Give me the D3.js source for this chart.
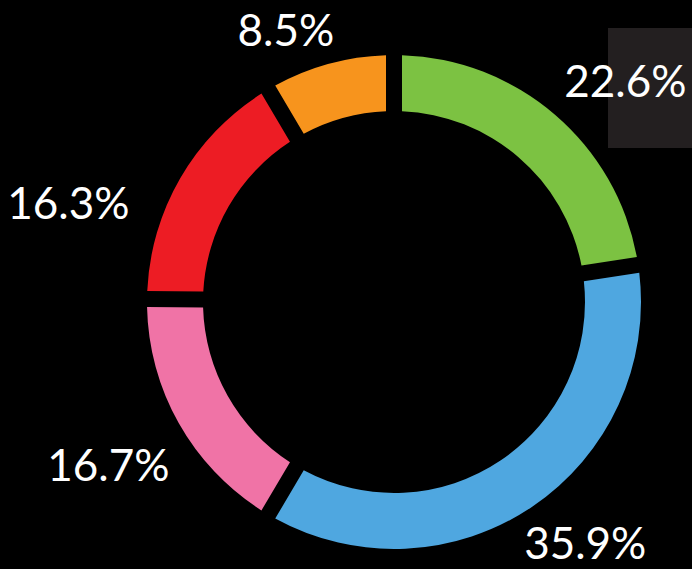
<!DOCTYPE html>
<html>
<head>
<meta charset="utf-8">
<script src="https://cdn.jsdelivr.net/npm/d3@7"></script>
<style>
  html, body { margin: 0; padding: 0; background: #000; }
  svg { display: block; }
</style>
</head>
<body>
<svg id="chart"></svg>
<script>
const categories = ["Green", "Blue", "Pink", "Red", "Orange"];
const shares = [22.6, 35.9, 16.7, 16.3, 8.5];
const labels = ["22.6%", "35.9%", "16.7%", "16.3%", "8.5%"];
const colors = ["#7cc242", "#4fa7e0", "#f073a6", "#ed1c24", "#f7941d"];

const width = 692, height = 569;
const cx = 394, cy = 302,
    outerR = 247, innerR = 191;

const svg = d3.select("#chart")
    .attr("width", width)
    .attr("height", height);

svg.append("rect")
    .attr("width", width)
    .attr("height", height)
    .attr("fill", "#000");

// dark box behind the top right label
svg.append("rect")
    .attr("x", 608)
    .attr("y", 28)
    .attr("width", 84)
    .attr("height", 120)
    .attr("fill", "#231f20");

const g = svg.append("g")
    .attr("transform", `translate(${cx},${cy})`);

const pie = d3.pie().sort(null).value(d => d);
const arcs = pie(shares);

const arc = d3.arc()
    .innerRadius(innerR)
    .outerRadius(outerR)
    .padRadius(220)
    .padAngle(16 / 220);

g.selectAll(".slice")
    .data(arcs)
    .enter()
    .append("path")
    .attr("class", "slice")
    .attr("d", arc)
    .attr("fill", (d, i) => colors[i]);

// labels sit outside the ring, hand nudged like the original
const labelArc = d3.arc().innerRadius(315).outerRadius(315);
const nudge = [[26, 18], [15, -20], [-11, 9], [-53, 59], [-25, 32]];

g.selectAll(".label")
    .data(arcs)
    .enter()
    .append("text")
    .attr("class", "label")
    .attr("x", (d, i) => labelArc.centroid(d)[0] + nudge[i][0])
    .attr("y", (d, i) => labelArc.centroid(d)[1] + nudge[i][1])
    .attr("dy", "0.36em")
    .attr("text-anchor", "middle")
    .attr("fill", "#fff")
    .style("font-family", "Lato, sans-serif")
    .style("font-size", "44px")
    .text((d, i) => labels[i]);
</script>
</body>
</html>
